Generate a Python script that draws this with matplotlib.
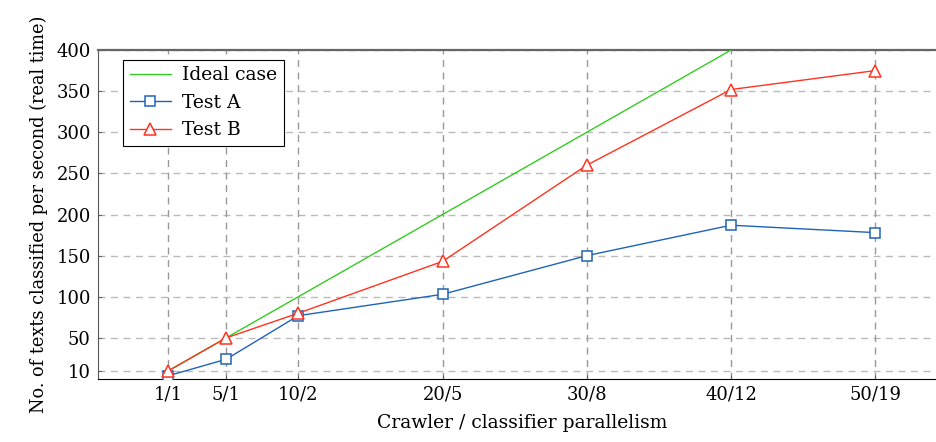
import matplotlib.pyplot as plt

plt.rcParams['font.family'] = ['DejaVu Serif']

# data
x_pos = [1, 5, 10, 20, 30, 40, 50]
x_labels = ['1/1', '5/1', '10/2', '20/5', '30/8', '40/12', '50/19']
ideal_x = [1, 5, 10, 20, 30, 40]
ideal_y = [10, 50, 100, 200, 300, 400]
test_a = [4, 24, 77, 103, 150, 187, 178]
test_b = [10, 50, 80, 143, 260, 352, 375]
y_ticks = [10, 50, 100, 150, 200, 250, 300, 350, 400]

fig = plt.figure(figsize=(9.36, 4.42), dpi=100)
ax = fig.add_axes([0.1044, 0.1425, 0.9063, 0.7443])

ax.plot(ideal_x, ideal_y, color='#33cc22', lw=1.0, label='Ideal case', zorder=3)
ax.plot(x_pos, test_a, color='#1f63b8', lw=1.0, marker='s', ms=6.5,
        mfc='white', mec='#1f63b8', mew=1.1, label='Test A', zorder=4)
ax.plot(x_pos, test_b, color='#ff3320', lw=1.0, marker='^', ms=8,
        mfc='white', mec='#ff3320', mew=1.1, label='Test B', zorder=5)

ax.set_xlim(-3.9, 54.9)
ax.set_ylim(0, 400)
ax.set_xticks(x_pos)
ax.set_xticklabels(x_labels)
ax.set_yticks(y_ticks)
ax.tick_params(labelsize=13, length=3, width=0.6, color='#555555', pad=5,
               direction='in')

for y in y_ticks:
    ax.axhline(y, color='#bbbbbb', lw=1.0, ls=(0, (5, 4)), zorder=1)
for x in x_pos:
    ax.axvline(x, color='#999999', lw=1.0, ls=(0, (5, 4)), zorder=1)

ax.spines['left'].set_color('#555555')
ax.spines['top'].set_color('#666666')
ax.spines['top'].set_linewidth(1.6)
ax.spines['bottom'].set_color('black')
ax.spines['right'].set_visible(False)

ax.set_xlabel('Crawler / classifier parallelism', fontsize=13.5, labelpad=7)
ax.set_ylabel('No. of texts classified per second (real time)', fontsize=12.8, labelpad=6)

leg = ax.legend(loc='upper left', bbox_to_anchor=(0.03, 0.97), fontsize=13.5,
                frameon=True, fancybox=False, edgecolor='black', framealpha=1,
                handlelength=2.2, borderpad=0.35, labelspacing=0.5,
                borderaxespad=0, handletextpad=0.6)
leg.get_frame().set_linewidth(0.8)

fig.savefig('out.png', dpi=100)
